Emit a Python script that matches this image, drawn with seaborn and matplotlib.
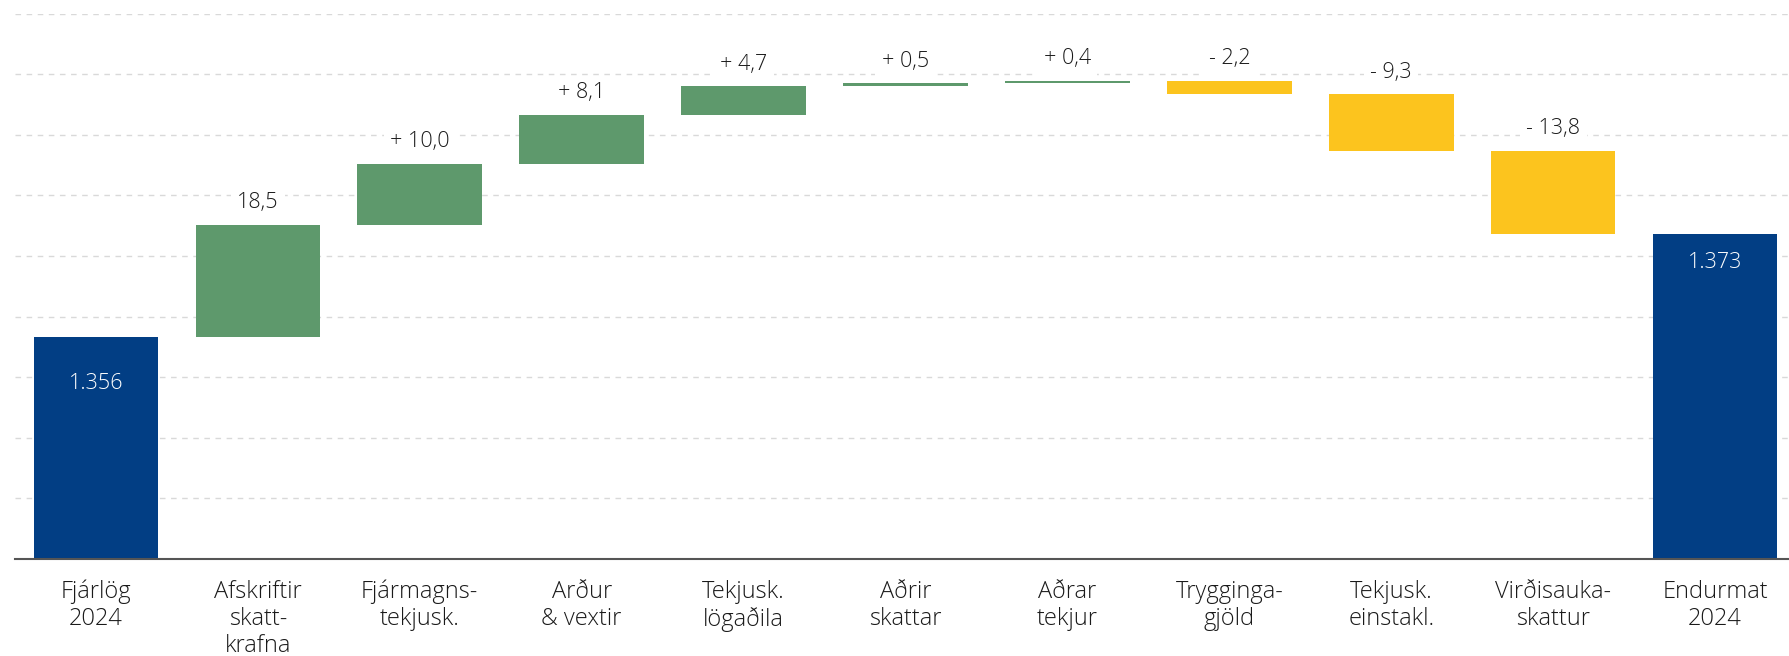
import numpy as np
import pandas as pd
import matplotlib
matplotlib.use("Agg")
import matplotlib.pyplot as plt
import seaborn as sns

sns.set_style("white")
plt.rcParams["font.family"] = ["Open Sans", "DejaVu Sans"]

# data
categories = ["Fjárlög\n2024", "Afskriftir\nskatt-\nkrafna", "Fjármagns-\ntekjusk.",
              "Arður\n& vextir", "Tekjusk.\nlögaðila", "Aðrir\nskattar", "Aðrar\ntekjur",
              "Trygginga-\ngjöld", "Tekjusk.\neinstakl.", "Virðisauka-\nskattur", "Endurmat\n2024"]
start_value = 1356
end_value = 1373
changes = [18.5, 10.0, 8.1, 4.7, 0.5, 0.4, -2.2, -9.3, -13.8]
change_labels = ["18,5", "+ 10,0", "+ 8,1", "+ 4,7", "+ 0,5", "+ 0,4", "- 2,2", "- 9,3", "- 13,8"]
total_labels = ["1.356", "1.373"]

BLUE = "#023e84"
GREEN = "#5e996c"
YELLOW = "#fcc41e"

# waterfall geometry
chg = np.array(changes)
level = start_value + np.concatenate([[0], np.cumsum(chg)])
bottoms = [0] + list(np.minimum(level[:-1], level[1:])) + [0]
heights = [start_value] + list(np.abs(chg)) + [end_value]
colors = [BLUE] + [GREEN if c > 0 else YELLOW for c in changes] + [BLUE]

df = pd.DataFrame({"cat": categories, "height": heights})

fig = plt.figure(figsize=(17.9, 6.56), dpi=100)
ax = fig.add_axes([15 / 1790, 0.148, 1781 / 1790, 0.831])

sns.barplot(data=df, x="cat", y="height", order=categories, width=0.77,
            errorbar=None, color=BLUE, ax=ax, zorder=2)
for patch, b, c in zip(ax.patches, bottoms, colors):
    patch.set_y(b)
    patch.set_facecolor(c)
    patch.set_edgecolor("none")

ymin = 1319.3
ax.set_xlim(-0.5, 10.5)
ax.set_ylim(ymin, ymin + 90)
ax.set_yticks(ymin + np.arange(0, 91, 10))
ax.yaxis.grid(True, color="#d9d9d9", linestyle=(0, (4, 4)), linewidth=1, zorder=0)
ax.set_axisbelow(True)
ax.set_yticklabels([])
ax.tick_params(axis="y", length=0)
ax.tick_params(axis="x", length=0, pad=15)
ax.set_xlabel("")
ax.set_ylabel("")
for lab in ax.get_xticklabels():
    lab.set_fontsize(17)
    lab.set_color("#1a1a1a")
    lab.set_linespacing(1.18)
    lab.set_fontweight("light")

for s in ["top", "right", "left"]:
    ax.spines[s].set_visible(False)
ax.spines["bottom"].set_color("#555555")
ax.spines["bottom"].set_linewidth(1.5)
ax.spines["bottom"].set_zorder(3)

# change labels above the floating bars
for i, txt in enumerate(change_labels, start=1):
    top = bottoms[i] + heights[i]
    ax.annotate(txt, (i, top), xytext=(0, 16), textcoords="offset points",
                ha="center", va="center", fontsize=15.5, color="#1a1a1a", fontweight="light",
                bbox=dict(boxstyle="square,pad=0.3", fc="white", ec="none"), zorder=4)

# totals inside the blue bars
for i, txt, off in [(0, total_labels[0], -34), (10, total_labels[1], -21)]:
    ax.annotate(txt, (i, heights[i]), xytext=(0, off), textcoords="offset points",
                ha="center", va="center", fontsize=15.5, color="white", fontweight="light", zorder=4)

fig.savefig("out.png", dpi=100)
